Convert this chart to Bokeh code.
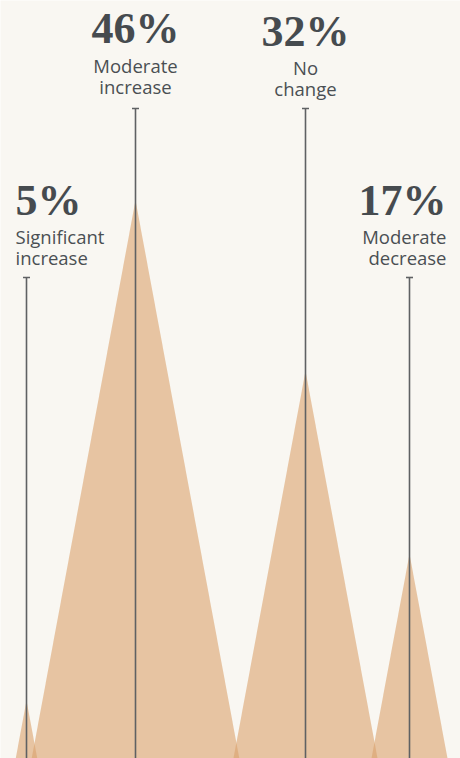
from bokeh.plotting import figure
from bokeh.models import Range1d
from bokeh.core.properties import value
from bokeh.embed import file_html
from bokeh.resources import INLINE

# ---- data ----
categories = ["Significant\nincrease", "Moderate\nincrease", "No\nchange", "Moderate\ndecrease"]
shares = [5, 46, 32, 17]
pct_labels = ["5%", "46%", "32%", "17%"]

# ---- layout (pixels) ----
W, H = 460, 758
BASE_PX = 761          # where 0% sits (slightly below the window)
K = 12.2               # px per percentage point
SLOPE = 0.186          # half-width / height of each peak
centers = [26, 135, 305, 409]
line_top_px = [277, 108, 108, 277]
pct_mid_px = [200, 28, 31, 200]
lab_mid_px = [(236, 257), (65, 86), (67, 88), (236, 257)]
aligns = ["left", "center", "center", "right"]
text_x = [15, 135, 305, 446]

def py(px):
    return (BASE_PX - px) / K

p = figure(width=W, height=H, x_range=Range1d(0, W), y_range=Range1d(py(H), py(0)),
           output_backend="svg", toolbar_location=None, min_border=0)
p.axis.visible = False
p.grid.visible = False
p.outline_line_color = None
p.background_fill_color = "#f9f7f2"
p.border_fill_color = "#f9f7f2"

xs, ys = [], []
for c, v in zip(centers, shares):
    hw = v * K * SLOPE
    xs.append([c - hw, c, c + hw])
    ys.append([0, v, 0])
p.patches(xs, ys, fill_color="#dba26d", fill_alpha=0.6, line_color=None)

tops = [py(t) for t in line_top_px]
p.segment(x0=centers, y0=[0] * 4, x1=centers, y1=tops, line_color="#5f6163", line_width=1.6)
p.segment(x0=[c - 3.5 for c in centers], y0=tops, x1=[c + 3.5 for c in centers], y1=tops,
          line_color="#5f6163", line_width=1.6)

for i in range(4):
    p.text(x=[text_x[i]], y=[py(pct_mid_px[i])], text=[pct_labels[i]],
           text_font=value("Liberation Serif"), text_font_style="bold",
           text_font_size="44px", text_color="#464b4f", text_align=aligns[i],
           text_baseline="middle")
    lines = categories[i].split("\n")
    p.text(x=[text_x[i]] * len(lines), y=[py(m) for m in lab_mid_px[i]], text=lines,
           text_font=value("Open Sans"), text_font_size="18.5px", text_color="#4a4f53",
           text_align=aligns[i], text_baseline="middle")

open("out.html", "w").write(file_html(p, INLINE))
